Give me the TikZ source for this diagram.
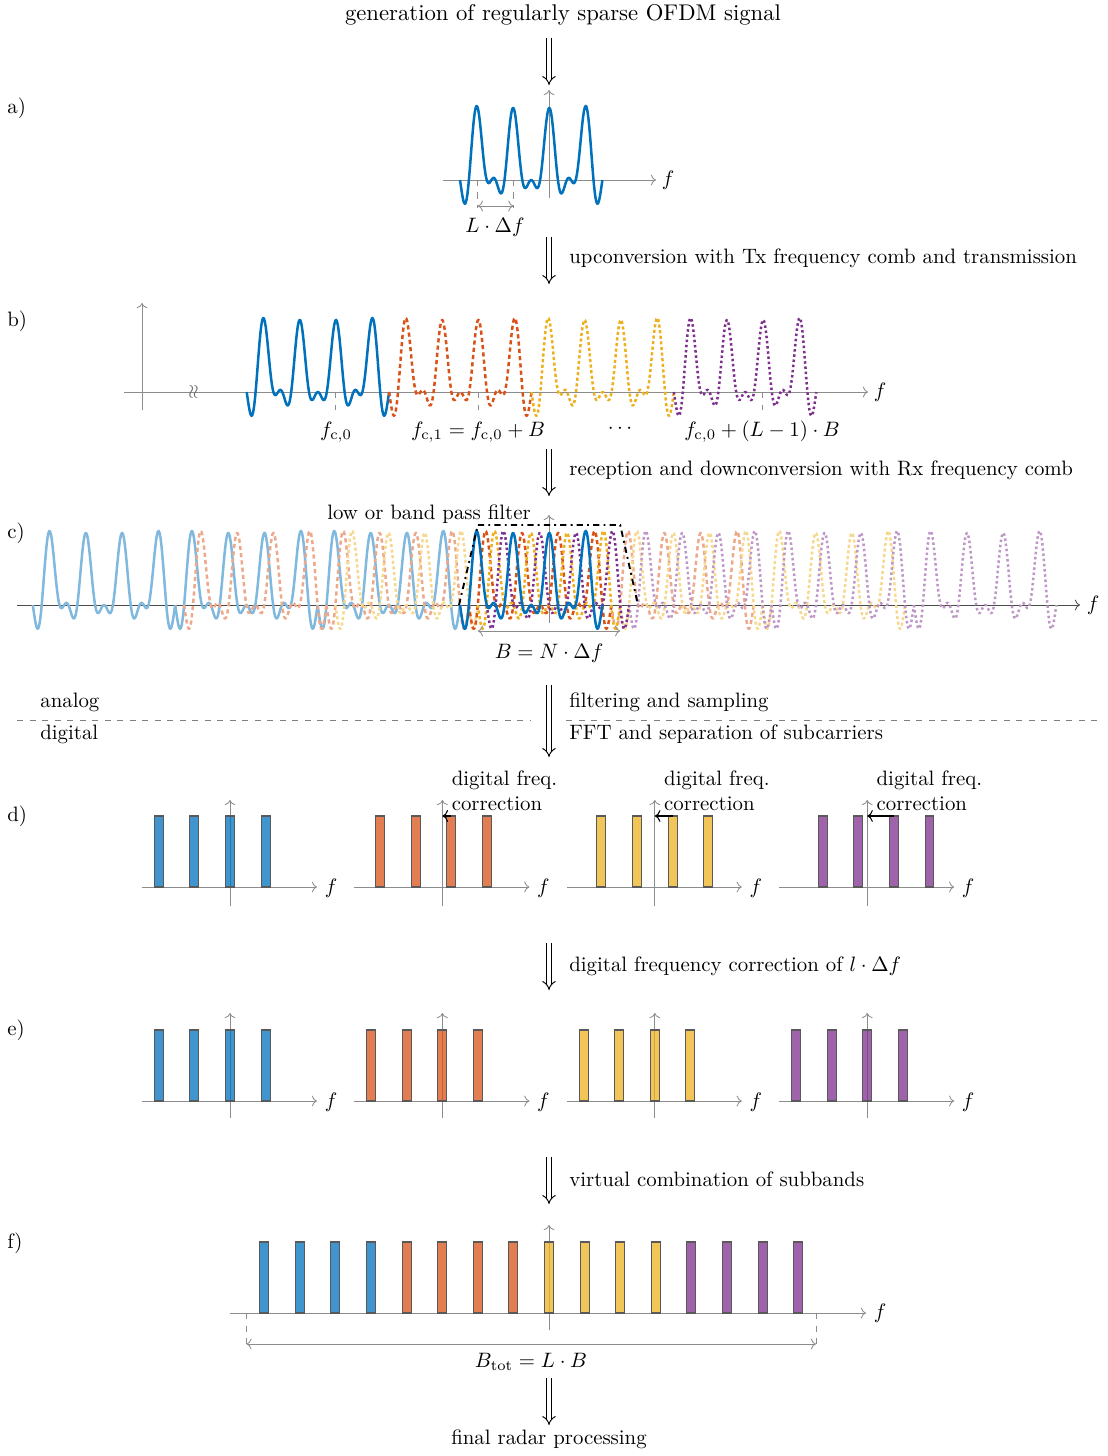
\documentclass[tikz,border=0pt]{standalone}
\usetikzlibrary{arrows.meta}
\definecolor{cblue}{RGB}{0,114,189}
\definecolor{cred}{RGB}{217,83,25}
\definecolor{cyellow}{RGB}{237,177,32}
\definecolor{cpurple}{RGB}{126,47,142}
\newcommand\bandcurve[3]{\draw[#1] (#2-17.8,#3) -- plot[domain=-1.963:13.937, samples=160] ({#2+\x*8.9},{#3-72*band(\x)}) -- (#2+124.6,#3);}
\begin{document}
\begin{tikzpicture}[x=0.48pt,y=-0.48pt,
 declare function={sinc(\t)=sin(180*\t)/(pi*\t); band(\t)=sinc(\t)+sinc(\t-4)+sinc(\t-8)+sinc(\t-12);},
 ax/.style={draw=black!45,line width=0.4pt,->},
 tk/.style={draw=black!45,dashed,line width=0.4pt},
 dim/.style={draw=black!45,line width=0.4pt,<->},
 imp/.style={double,double distance=1.8pt,line width=0.45pt,-{Implies}},
 cv/.style={line width=1.2pt,line join=round},
 sblue/.style={cv,draw=cblue},
 sred/.style={cv,draw=cred,dash pattern=on 2pt off 1.5pt},
 syel/.style={cv,draw=cyellow,dash pattern=on 1.5pt off 1.2pt},
 spur/.style={cv,draw=cpurple,dash pattern=on 1.2pt off 1.3pt},
 lblue/.style={sblue,draw=cblue!50},
 lred/.style={sred,draw=cred!50},
 lyel/.style={syel,draw=cyellow!50},
 lpur/.style={spur,draw=cpurple!50},
 bar/.style={draw=black!65,line width=0.5pt,fill opacity=0.75},
 lbl/.style={anchor=mid west},
 corr/.style={draw=black,line width=0.5pt,->},
]
\useasboundingbox (0,0) rectangle (1107,1456);

% ---------- title and arrow 1
\node[font=\fontsize{10.9}{13}\selectfont] (title) at (563,15) {generation of regularly sparse OFDM signal};
\coordinate (i1s) at (549,38); \coordinate (i1e) at (549,85);
\draw[imp] (i1s) -- (i1e);

% ---------- panel a
\node[anchor=west] (la) at (0,108) {a)};
\draw[ax] (443,180) -- (656,180);
\node (fa) at (668,180) {$f$};
\draw[ax] (549,198) -- (549,90);
\draw[tk] (477.8,180) -- (477.8,208);
\draw[tk] (513.4,180) -- (513.4,208);
\draw[dim] (477.8,206) -- (513.4,206);
\node (lda) at (495,227) {$L\cdot\Delta f$};
\bandcurve{sblue}{477.8}{180}

% ---------- arrow 2
\coordinate (i2s) at (549,237); \coordinate (i2e) at (549,284);
\draw[imp] (i2s) -- (i2e);
\node[lbl] (t2) at (562,259) {upconversion with Tx frequency comb and transmission};

% ---------- panel b
\node[anchor=west] (lb) at (0,321) {b)};
\draw[ax] (124,392) -- (868,392);
\node (fb) at (880,392) {$f$};
\draw[ax] (142,410) -- (142,303);
\node[rotate=90,text=black!60,inner sep=0] (brk) at (194,392) {\small$\approx$};
\draw[tk] (335.7,392) -- (335.7,410);
\draw[tk] (478.1,392) -- (478.1,410);
\draw[tk] (762.9,392) -- (762.9,410);
\bandcurve{sblue}{264.5}{392}
\bandcurve{sred}{406.9}{392}
\bandcurve{syel}{549.3}{392}
\bandcurve{spur}{691.7}{392}
\node (fc0) at (336,432) {$f_{\mathrm{c},0}$};
\node (fc1) at (478,432) {$f_{\mathrm{c},1} = f_{\mathrm{c},0}+B$};
\node (dots) at (620,429) {$\cdots$};
\node (fcl) at (762,432) {$f_{\mathrm{c},0}+(L-1)\cdot B$};

% ---------- arrow 3
\coordinate (i3s) at (549,449); \coordinate (i3e) at (549,496);
\draw[imp] (i3s) -- (i3e);
\node[lbl] (t3) at (562,471) {reception and downconversion with Rx frequency comb};

% ---------- panel c
\node[anchor=west] (lc) at (0,533) {c)};
\draw[draw=black!70,line width=0.4pt,->] (17,605) -- (1080,605);
\node (fcc) at (1093,605) {$f$};
\draw[ax] (549,623) -- (549,515);
\foreach \m in {-3,-2,-1}{\pgfmathsetmacro\xo{477.8+\m*142.4}\bandcurve{lblue}{\xo}{605}}
\foreach \m in {-2,-1,1}{\pgfmathsetmacro\xo{486.7+\m*142.4}\bandcurve{lred}{\xo}{605}}
\foreach \m in {-1,1,2}{\pgfmathsetmacro\xo{495.6+\m*142.4}\bandcurve{lyel}{\xo}{605}}
\foreach \m in {1,2,3}{\pgfmathsetmacro\xo{504.5+\m*142.4}\bandcurve{lpur}{\xo}{605}}
\bandcurve{sred}{486.7}{605}
\bandcurve{syel}{495.6}{605}
\bandcurve{spur}{504.5}{605}
\bandcurve{sblue}{477.8}{605}
\draw[black,line width=0.9pt,dash dot] (459,605) -- (477.8,525) -- (620.2,525) -- (638,605);
\node (filt) at (429,514) {low or band pass filter};
\draw[dim] (477.8,631) -- (620.2,631);
\node (bn) at (549,653) {$B = N\cdot\Delta f$};

% ---------- arrow 4 and analog/digital
\coordinate (i4s) at (549,685); \coordinate (i4e) at (549,757);
\draw[imp] (i4s) -- (i4e);
\node[lbl] (t4a) at (562,703) {filtering and sampling};
\node[lbl] (t4b) at (562,735) {FFT and separation of subcarriers};
\node[lbl] (ana) at (33,703) {analog};
\node[lbl] (dig) at (33,735) {digital};
\draw[draw=black!50,dashed,line width=0.4pt] (17,720) -- (530,720);
\draw[draw=black!50,dashed,line width=0.4pt] (566,720) -- (1097,720);

% ---------- panel d
\node[anchor=west] (ld) at (0,816) {d)};
\foreach \i/\c in {0/cblue,1/cred,2/cyellow,3/cpurple}{
  \pgfmathsetmacro\X{230+212.4*\i}
  \draw[ax] (\X-88,887) -- (\X+87,887);
  \draw[ax] (\X,906) -- (\X,800);
  \node (fd\i) at (\X+101,888) {$f$};
  \foreach \k in {0,...,3}{
    \pgfmathsetmacro\bx{\X+(\k-2)*35.6+\i*8.9}
    \draw[bar,fill=\c] (\bx-4.45,887) rectangle (\bx+4.45,816);
  }
}
\foreach \i in {1,2,3}{
  \pgfmathsetmacro\X{230+212.4*\i}
  \draw[corr] (\X+\i*8.9,816) -- (\X,816);
  \node[anchor=north west,align=left,inner sep=0] (dc\i) at (\X+9,770) {digital freq.\\correction};
}

% ---------- arrow 5
\coordinate (i5s) at (549,943); \coordinate (i5e) at (549,990);
\draw[imp] (i5s) -- (i5e);
\node[lbl] (t5) at (562,967) {digital frequency correction of $l\cdot\Delta f$};

% ---------- panel e
\node[anchor=west] (le) at (0,1030) {e)};
\foreach \i/\c in {0/cblue,1/cred,2/cyellow,3/cpurple}{
  \pgfmathsetmacro\X{230+212.4*\i}
  \draw[ax] (\X-88,1101) -- (\X+87,1101);
  \draw[ax] (\X,1118) -- (\X,1013);
  \node (fe\i) at (\X+101,1102) {$f$};
  \foreach \k in {0,...,3}{
    \pgfmathsetmacro\bx{\X+(\k-2)*35.6}
    \draw[bar,fill=\c] (\bx-4.45,1101) rectangle (\bx+4.45,1030);
  }
}

% ---------- arrow 6
\coordinate (i6s) at (549,1157); \coordinate (i6e) at (549,1204);
\draw[imp] (i6s) -- (i6e);
\node[lbl] (t6) at (562,1182) {virtual combination of subbands};

% ---------- panel f
\node[anchor=west] (lf) at (0,1243) {f)};
\draw[ax] (230,1313) -- (866,1313);
\node (ff) at (880,1313) {$f$};
\draw[ax] (549,1330) -- (549,1225);
\foreach \i/\c in {0/cblue,1/cred,2/cyellow,3/cpurple}{
  \foreach \k in {0,...,3}{
    \pgfmathsetmacro\bx{549+(4*\i+\k-8)*35.6}
    \draw[bar,fill=\c] (\bx-4.45,1313) rectangle (\bx+4.45,1242);
  }
}
\draw[tk] (246.4,1313) -- (246.4,1346);
\draw[tk] (816,1313) -- (816,1346);
\draw[dim] (246.4,1344) -- (816,1344);
\node (btot) at (531,1362) {$B_{\mathrm{tot}} = L\cdot B$};

% ---------- arrow 7
\coordinate (i7s) at (549,1378); \coordinate (i7e) at (549,1425);
\draw[imp] (i7s) -- (i7e);
\node (fin) at (549,1439) {final radar processing};
\end{tikzpicture}
\end{document}
